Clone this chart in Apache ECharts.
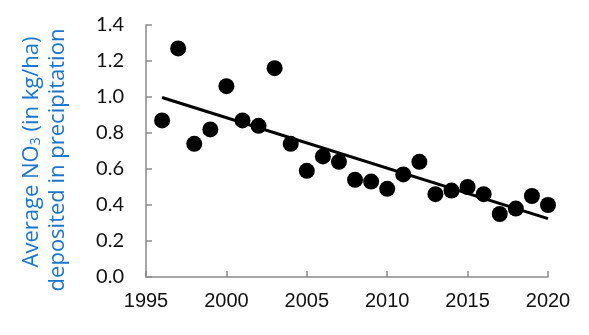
<!DOCTYPE html>
<html>
<head>
<meta charset="utf-8">
<script src="https://cdn.jsdelivr.net/npm/echarts@6/dist/echarts.min.js"></script>
<style>html,body{margin:0;padding:0;background:#fff}#c{width:589px;height:335px}</style>
</head>
<body>
<div id="c"></div>
<script>
const years = [1996,1997,1998,1999,2000,2001,2002,2003,2004,2005,2006,2007,2008,2009,2010,2011,2012,2013,2014,2015,2016,2017,2018,2019,2020];
const no3 = [0.87,1.27,0.74,0.82,1.06,0.87,0.84,1.16,0.74,0.59,0.67,0.64,0.54,0.53,0.49,0.57,0.64,0.46,0.48,0.50,0.46,0.35,0.38,0.45,0.40];
const xTicks = [1995,2000,2005,2010,2015,2020];
const yTicks = [0.0,0.2,0.4,0.6,0.8,1.0,1.2,1.4];

// least squares trend from data
const n = years.length;
const mx = years.reduce((a,b)=>a+b,0)/n;
const my = no3.reduce((a,b)=>a+b,0)/n;
let sxy=0,sxx=0;
for(let i=0;i<n;i++){sxy+=(years[i]-mx)*(no3[i]-my);sxx+=(years[i]-mx)**2;}
const slope = sxy/sxx, icpt = my - slope*mx;
const trend = [[years[0], icpt+slope*years[0]],[years[n-1], icpt+slope*years[n-1]]];

const chart = echarts.init(document.getElementById('c'));
const blue = '#1b76cf';
const tf = 'Open Sans, sans-serif';
chart.setOption({
  animation:false,
  grid:{left:146,right:41,top:25,bottom:58},
  xAxis:{type:'value',min:1995,max:2020,interval:5,
    axisLine:{lineStyle:{color:'#8a8a8a',width:1.5}},
    axisTick:{inside:true,length:6,lineStyle:{color:'#8a8a8a',width:1.5}},
    splitLine:{show:false},
    axisLabel:{color:'#111',fontSize:20,fontFamily:'Liberation Sans, Arial',margin:14,
      formatter:v=>xTicks.includes(v)?String(v):''}},
  yAxis:{type:'value',min:0,max:1.4,interval:0.2,
    axisLine:{show:true,lineStyle:{color:'#8a8a8a',width:1.5}},
    axisTick:{show:true,inside:true,length:6,lineStyle:{color:'#8a8a8a',width:1.5}},
    splitLine:{show:false},
    axisLabel:{color:'#111',fontSize:20,fontFamily:'Lato, sans-serif',margin:22,
      formatter:v=>{const t=yTicks.find(x=>Math.abs(x-v)<1e-6);return t===undefined?'':t.toFixed(1);}}},
  series:[
    {type:'line',data:trend,symbol:'none',lineStyle:{color:'#000',width:3},z:2},
    {type:'scatter',data:years.map((y,i)=>[y,no3[i]]),symbolSize:16,itemStyle:{color:'#000',opacity:1},z:3}
  ],
  graphic:[
    {type:'text',x:30,y:152,rotation:Math.PI/2,
      style:{text:'{m|Average NO}{s|3}{m| (in kg/ha)}',align:'center',verticalAlign:'middle',
        rich:{m:{fontSize:22,fontFamily:tf,fill:blue,lineHeight:26,verticalAlign:'bottom'},
              s:{fontSize:14,fontFamily:tf,fill:blue,lineHeight:26,verticalAlign:'bottom',padding:[8,0,0,0]}}}},
    {type:'text',x:58,y:160,rotation:Math.PI/2,
      style:{text:'deposited in precipitation',align:'center',verticalAlign:'middle',
        fontSize:22,fontFamily:tf,fill:blue}}
  ]
});
</script>
</body>
</html>
